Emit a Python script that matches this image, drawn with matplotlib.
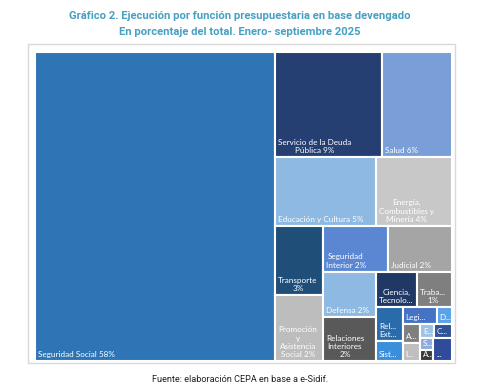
import matplotlib.pyplot as plt
from matplotlib.patches import Rectangle

labels = ["Seguridad Social 58%", "Servicio de la Deuda\nPública 9%", "Salud 6%",
          "Educación y Cultura 5%", "Energía,\nCombustibles y\nMinería 4%",
          "Transporte\n3%", "Promoción\ny\nAsistencia\nSocial 2%", "Seguridad\nInterior 2%",
          "Judicial 2%", "Defensa 2%", "Relaciones\nInteriores\n2%", "Ciencia,\nTecnolo...",
          "Traba...\n1%", "Rel...\nExt...", "Sist...", "Legi...", "D...", "A...", "I...",
          "E...", "C...", "S...", "A...", "..."]
values = [57.6, 8.7, 5.7, 5.4, 4.06, 2.55, 2.44, 2.31, 2.28, 1.89, 1.80, 1.11,
          0.97, 0.71, 0.41, 0.44, 0.20, 0.26, 0.24, 0.15, 0.20, 0.13, 0.11, 0.34]
colors = ["#2E75B6", "#253F72", "#7A9FD8", "#8DB9E3", "#C8C8C8", "#1F4E79", "#BDBDBD",
          "#5B87D2", "#A5A5A5", "#8DB9E3", "#595959", "#203864", "#7F7F7F", "#2A6BAA",
          "#3A8EDB", "#4472C4", "#5BA3E8", "#7F7F7F", "#BFBFBF", "#9DC3E6", "#2F5597",
          "#8FAADC", "#3B3B3B", "#2F4B9A"]

W, H = 415, 307


def worst(row, side):
    s = sum(row)
    return max(max(side**2 * r / s**2, s**2 / (side**2 * r)) for r in row)


def squarify(vals, x, y, w, h):
    rects = []
    vals = list(vals)
    while vals:
        short = min(w, h)
        row = [vals[0]]
        i = 1
        while i < len(vals) and worst(row + [vals[i]], short) <= worst(row, short):
            row.append(vals[i])
            i += 1
        s = sum(row)
        if w >= h:
            cw = s / h
            yy = y
            for v in row:
                rects.append((x, yy, cw, v / cw))
                yy += v / cw
            x += cw
            w -= cw
        else:
            rh = s / w
            xx = x
            for v in row:
                rects.append((xx, y, v / rh, rh))
                xx += v / rh
            y += rh
            h -= rh
        vals = vals[i:]
    return rects


total = sum(values)
areas = [v / total * W * H for v in values]
rects = squarify(areas, 0, 0, W, H)

fig = plt.figure(figsize=(4.8, 3.92), dpi=100)
fig.patches.append(Rectangle((28 / 480, 1 - 363 / 392), 427 / 480, 319 / 392,
                             transform=fig.transFigure, fill=False,
                             edgecolor="#D9D9D9", linewidth=1))
ax = fig.add_axes([35 / 480, 1 - 361 / 392, 417 / 480, 309 / 392])
ax.set_xlim(0, W)
ax.set_ylim(H, 0)
ax.axis("off")

for (x, y, w, h), lab, c in zip(rects, labels, colors):
    ax.add_patch(Rectangle((x, y), w, h, facecolor=c, edgecolor="white", linewidth=1.5))
    ax.text(x + 3, y + h - 3, lab, ha="left", va="bottom", multialignment="center",
            color="white", fontsize=5.9, family="Lato", linespacing=1.2)

fig.text(0.5, 1 - 16 / 392, "Gráfico 2. Ejecución por función presupuestaria en base devengado",
         ha="center", va="center", color="#45A0C2", fontsize=8.1, fontweight="bold", family="Roboto")
fig.text(0.5, 1 - 32 / 392, "En porcentaje del total. Enero- septiembre 2025",
         ha="center", va="center", color="#45A0C2", fontsize=8.1, fontweight="bold", family="Roboto")
fig.text(0.5, 1 - 380 / 392, "Fuente: elaboración CEPA en base a e-Sidif.",
         ha="center", va="center", color="#222222", fontsize=6.6, family="Roboto")

fig.savefig("out.png", dpi=100)
